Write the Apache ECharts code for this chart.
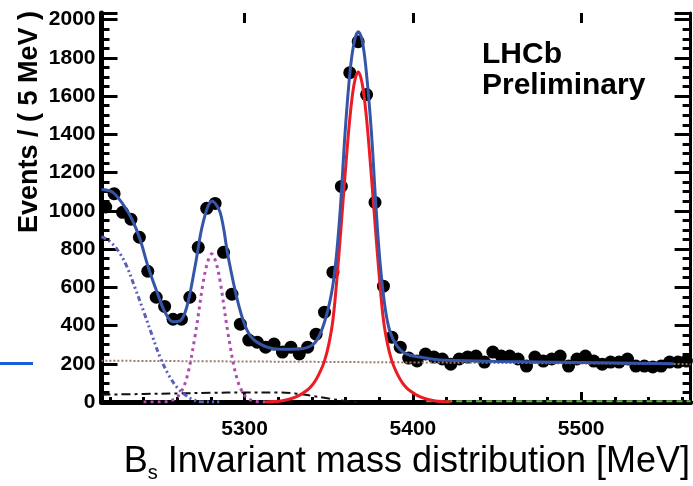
<!DOCTYPE html>
<html>
<head>
<meta charset="utf-8">
<script src="https://cdn.jsdelivr.net/npm/echarts@6/dist/echarts.min.js"></script>
<style>
html, body { margin: 0; padding: 0; background: #fff; }
#chart { width: 693px; height: 486px; }
</style>
</head>
<body>
<div id="chart"></div>
<script>
// data points: 5 MeV bins
var binMass = [5217.5, 5222.5, 5227.5, 5232.5, 5237.5, 5242.5, 5247.5, 5252.5, 5257.5, 5262.5,
    5267.5, 5272.5, 5277.5, 5282.5, 5287.5, 5292.5, 5297.5, 5302.5, 5307.5, 5312.5,
    5317.5, 5322.5, 5327.5, 5332.5, 5337.5, 5342.5, 5347.5, 5352.5, 5357.5, 5362.5,
    5367.5, 5372.5, 5377.5, 5382.5, 5387.5, 5392.5, 5397.5, 5402.5, 5407.5, 5412.5,
    5417.5, 5422.5, 5427.5, 5432.5, 5437.5, 5442.5, 5447.5, 5452.5, 5457.5, 5462.5,
    5467.5, 5472.5, 5477.5, 5482.5, 5487.5, 5492.5, 5497.5, 5502.5, 5507.5, 5512.5,
    5517.5, 5522.5, 5527.5, 5532.5, 5537.5, 5542.5, 5547.5, 5552.5, 5557.5, 5562.5];
var binEvents = [1020, 1090, 992, 956, 862, 684, 548, 500, 433, 433,
    548, 809, 1013, 1039, 783, 564, 407, 324, 313, 287,
    303, 261, 287, 251, 287, 355, 470, 679, 1128, 1723,
    1885, 1608, 1044, 606, 339, 287, 230, 215, 251, 235,
    225, 198, 225, 235, 240, 209, 261, 240, 240, 225,
    188, 235, 214, 225, 240, 188, 225, 240, 214, 198,
    209, 209, 225, 188, 188, 183, 188, 209, 209, 214];

// total fit (blue)
var totalMass = [5215, 5217.1, 5221.8, 5227.8, 5233.1, 5237.9, 5242.6, 5248, 5252.7, 5257.5,
    5261.7, 5265.8, 5270.6, 5275.4, 5280.7, 5285.5, 5290.2, 5295.6, 5300.4, 5305.1,
    5313.4, 5321.1, 5332, 5341, 5346, 5350.8, 5353.8, 5356.8, 5359.8, 5362.8,
    5365.3, 5367.5, 5369.8, 5372.3, 5375.3, 5377.8, 5380.3, 5383.3, 5386.3, 5390.8,
    5396, 5404, 5411, 5420, 5450, 5500, 5555];
var totalFit = [1112, 1110, 1097, 1034, 956, 851, 710, 574, 470, 420,
    425, 501, 710, 940, 1050, 992, 762, 538, 397, 329,
    287, 276, 277, 303, 380, 530, 700, 1000, 1420, 1740,
    1890, 1937, 1895, 1730, 1420, 1060, 750, 505, 370, 290,
    252, 235, 225, 218, 212, 206, 200];

// Bs signal (red)
var sigMass = [5312.5, 5317.5, 5322.5, 5327.5, 5332.5, 5337.5, 5340, 5342.5, 5345, 5347.5,
    5350, 5352.5, 5355, 5357.5, 5360, 5362.5, 5365, 5367.5, 5370, 5372.5,
    5375, 5377.5, 5380, 5382.5, 5385, 5387.5, 5390, 5392.5, 5395, 5397.5,
    5402.5, 5407.5, 5412.5, 5417.5, 5422.5];
var sigFit = [0, 2, 7, 17, 35, 64, 86, 118, 160, 215,
    300, 430, 660, 935, 1220, 1480, 1660, 1728, 1660, 1480,
    1220, 935, 660, 430, 300, 215, 160, 118, 86, 64,
    35, 17, 7, 2, 0];

// second peak (magenta dotted)
var peak2Mass = [5240, 5250, 5255.5, 5260.5, 5265.5, 5270.5, 5275.5, 5278, 5280.5, 5283,
    5285.5, 5290.5, 5295.5, 5300.5, 5305.5, 5311, 5320];
var peak2Fit = [0, 0, 5, 29, 122, 341, 631, 730, 775, 730,
    631, 341, 122, 29, 5, 0, 0];

// partially reconstructed (blue dash-dot-dot)
var partMass = [5215, 5220, 5225, 5230, 5235, 5240, 5245, 5250, 5255, 5260, 5265, 5270, 5275, 5285];
var partFit = [865, 840, 790, 710, 595, 475, 350, 230, 140, 75, 35, 10, 0, 0];

// combinatorial (brown dotted)
var combMass = [5215, 5300, 5400, 5500, 5565];
var combFit = [216, 212, 207, 202, 198];

// black dash-dot
var otherMass = [5215, 5240, 5260, 5280, 5300, 5320, 5330, 5340, 5350, 5360, 5368];
var otherFit = [38, 42, 45, 48, 50, 50, 45, 32, 18, 5, 0];

// green dashed
var greenMass = [5408, 5565];
var greenFit = [4, 4];

var majorX = [5300, 5400, 5500];
var minorX = [5220, 5240, 5260, 5280, 5320, 5340, 5360, 5380, 5420, 5440, 5460, 5480, 5520, 5540, 5560];

function pairs(xs, ys) {
    var out = [];
    for (var i = 0; i < xs.length; i++) out.push([xs[i], ys[i]]);
    return out;
}

var myChart = echarts.init(document.getElementById('chart'), null, {renderer: 'canvas'});
var font = '"Liberation Sans", Arial, sans-serif';
var black = '#000';

function xAx(pos, ticks, len, labels, line) {
    return {
        type: 'value', position: pos, min: 5215, max: 5565,
        splitLine: {show: false},
        axisLine: {show: line, onZero: false, lineStyle: {color: black, width: 5}},
        axisTick: {show: true, inside: true, length: len, customValues: ticks, lineStyle: {color: black, width: 3}},
        axisLabel: {show: labels, customValues: majorX, margin: 17, color: black,
            fontFamily: font, fontWeight: 'bold', fontSize: 21,
            formatter: function (v) { return String(v); }}
    };
}

function yAx(pos, labels) {
    return {
        type: 'value', position: pos, min: 0, max: 2035, interval: 200,
        splitLine: {show: false},
        axisLine: {show: true, onZero: false, lineStyle: {color: black, width: pos == 'left' ? 5 : 3}},
        axisTick: {show: true, inside: true, length: 16, lineStyle: {color: black, width: 3}},
        minorTick: {show: true, splitNumber: 4, length: 8, lineStyle: {color: black, width: 3}},
        axisLabel: {show: labels, margin: 6, color: black, fontFamily: font, fontWeight: 'bold', fontSize: 21,
            padding: [5, 0, 0, 0],
            formatter: function (v) { return v % 200 === 0 ? String(v) : ''; }}
    };
}

function curve(name, xs, ys, color, width, type, z) {
    return {
        name: name, type: 'line', xAxisIndex: 0, yAxisIndex: 0,
        data: pairs(xs, ys), smooth: 0.35, showSymbol: false, symbol: 'none',
        lineStyle: {color: color, width: width, type: type}, z: z, animation: false
    };
}

var option = {
    animation: false,
    backgroundColor: '#fff',
    grid: {left: 101.5, right: 2.4, top: 13, bottom: 84, containLabel: false},
    xAxis: [
        xAx('bottom', majorX, 10, true, true),
        xAx('bottom', minorX, 5, false, false),
        xAx('top', majorX, 10, false, false)
    ],
    yAxis: [yAx('left', true), yAx('right', false)],
    series: [
        {
            name: 'data', type: 'scatter', xAxisIndex: 0, yAxisIndex: 0,
            data: pairs(binMass, binEvents), symbolSize: 13,
            itemStyle: {color: '#000', opacity: 1}, z: 2, animation: false
        },
        curve('comb', combMass, combFit, '#9b7b6b', 2, [2, 2], 3),
        curve('other', otherMass, otherFit, '#111', 2, [9, 4, 3, 4], 3),
        curve('green', greenMass, greenFit, '#5cb040', 2, [6, 4], 3),
        curve('part', partMass, partFit, '#5a60b8', 3, [5, 3, 2, 3, 2, 3], 3),
        curve('peak2', peak2Mass, peak2Fit, '#b04cb0', 3, [3, 4], 3),
        curve('signal', sigMass, sigFit, '#ec1c24', 3, 'solid', 4),
        curve('total', totalMass, totalFit, '#3556a8', 3, 'solid', 5)
    ],
    graphic: [
        {
            type: 'text', x: 30, y: 122, rotation: Math.PI / 2,
            style: {text: 'Events / ( 5 MeV )', fill: black, font: 'bold 27px ' + font,
                textAlign: 'center', textVerticalAlign: 'middle'}
        },
        {
            type: 'text', left: 482, top: 39,
            style: {text: 'LHCb\nPreliminary', fill: black, font: 'bold 30px ' + font, lineHeight: 31}
        },
        {
            type: 'text', right: 3, top: 444,
            style: {
                text: '{b|B}{s|s}{b| Invariant mass distribution [MeV]}',
                fill: black,
                rich: {
                    b: {fontFamily: font, fontSize: 36, fill: black},
                    s: {fontFamily: font, fontSize: 20, fill: black, verticalAlign: 'bottom', padding: [22, 0, 0, 0]}
                }
            }
        },
        {
            type: 'rect', shape: {x: 0, y: 362, width: 33, height: 3},
            style: {fill: '#1a5fd6'}
        }
    ]
};

myChart.setOption(option);
</script>
</body>
</html>
